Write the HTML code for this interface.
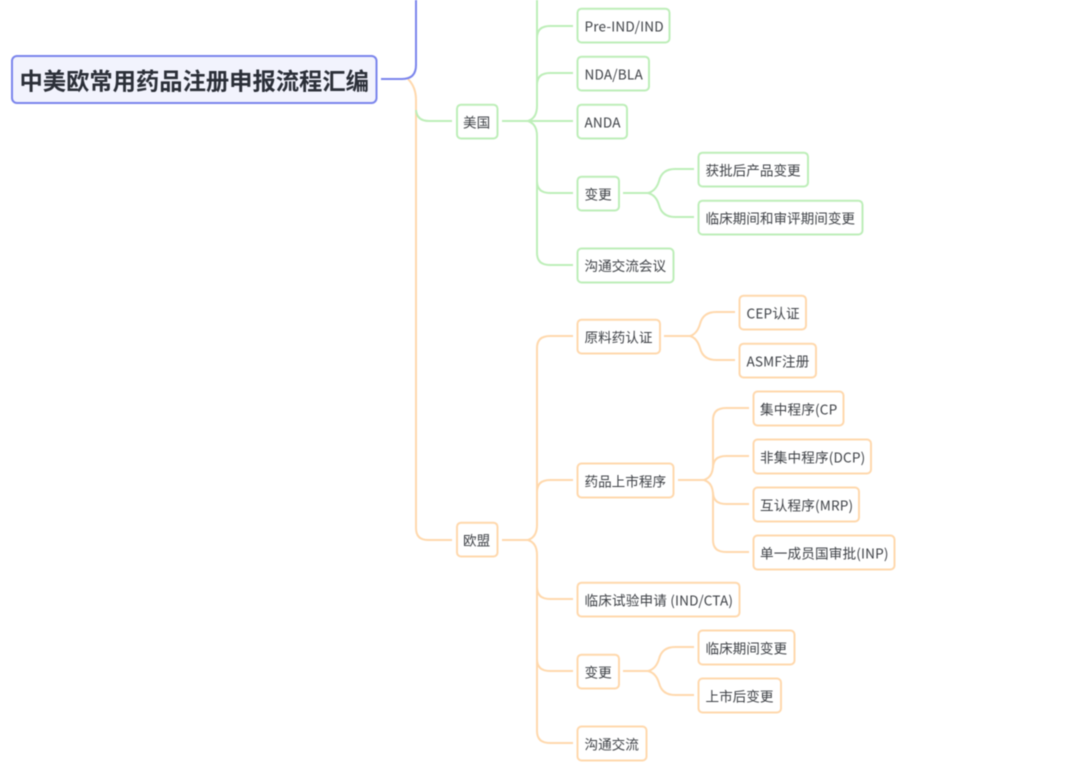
<!DOCTYPE html>
<html><head><meta charset="utf-8"><style>
html,body{margin:0;padding:0;background:#fff;width:1080px;height:780px;overflow:hidden}
svg{display:block;filter:blur(0.45px)}
text{font-family:"Noto Sans CJK SC","Liberation Sans",sans-serif;font-size:13.6px;fill:#3f4247}
text.l{letter-spacing:.16px}
.g rect{fill:#fff;stroke:#bdeeb8;stroke-width:2}
.o rect{fill:#fff;stroke:#ffd8ac;stroke-width:2}
.lg{fill:none;stroke:#bdeeb8;stroke-width:2}
.lo{fill:none;stroke:#ffd8ac;stroke-width:2}
</style></head><body>
<svg width="1080" height="780" viewBox="0 0 1080 780" xmlns="http://www.w3.org/2000/svg">
<path class="lo" d="M408 79C412 83 416 90 416 100V528Q416 540 428 540H452"/>
<path class="lg" d="M416 110Q417 121 429 121H452"/>
<path d="M381 79H402Q416 79 416 65V0" fill="none" stroke="#7a84ec" stroke-width="2"/>

<path class="lg" d="M502 121H528Q537 118 537 106V0"/>
<path class="lg" d="M537 38Q537 26 550 26H573"/>
<path class="lg" d="M537 85Q537 73 550 73H573"/>
<path class="lg" d="M528 121H573"/>
<path class="lg" d="M528 121Q537 124 537 136V181Q537 193 550 193H573"/>
<path class="lg" d="M537 181V253Q537 265 550 265H573"/>
<path class="lg" d="M623 193H648Q656 191 659 181Q662 169 675 169H694"/>
<path class="lg" d="M648 193Q656 195 659 205Q662 217 675 217H694"/>

<path class="lo" d="M502 540H528Q537 537 537 525V348Q537 336 550 336H573"/>
<path class="lo" d="M537 492Q537 480 550 480H573"/>
<path class="lo" d="M528 540Q537 543 537 555V731Q537 743 550 743H573"/>
<path class="lo" d="M537 587Q537 599 550 599H573"/>
<path class="lo" d="M537 659Q537 671 550 671H573"/>
<path class="lo" d="M664 336H690Q697 334 700 324Q703 312 716 312H735"/>
<path class="lo" d="M690 336Q697 338 700 348Q703 360 716 360H735"/>
<path class="lo" d="M678 480H704Q713 477 713 465V420Q713 408 726 408H749"/>
<path class="lo" d="M713 468Q713 456 726 456H749"/>
<path class="lo" d="M704 480Q713 483 713 495V540Q713 552 726 552H749"/>
<path class="lo" d="M713 492Q713 504 726 504H749"/>
<path class="lo" d="M623 671H648Q656 669 659 659Q662 647 675 647H694"/>
<path class="lo" d="M648 671Q656 673 659 683Q662 695 675 695H694"/>

<rect x="12" y="56" width="364.500" height="47" rx="5" fill="#f2f3fd" stroke="#7a84ec" stroke-width="2"/>
<text x="19.500" y="89.500" style="font-size:23.300px;font-weight:700;fill:#2b2f38">中美欧常用药品注册申报流程汇编</text>

<g class="g">
<rect x="577.500" y="8.700" width="92" height="33.800" rx="4"/><text class="l" x="584.500" y="31.300">Pre-IND/IND</text>
<rect x="577.500" y="56.700" width="71.500" height="33.800" rx="4"/><text class="l" x="584.500" y="79.300">NDA/BLA</text>
<rect x="577.500" y="104.700" width="49.500" height="33.800" rx="4"/><text class="l" x="584.500" y="127.300">ANDA</text>
<rect x="457" y="104.700" width="40.500" height="33.800" rx="4"/><text x="463" y="127.300">美国</text>
<rect x="577.500" y="176.700" width="41.500" height="33.800" rx="4"/><text x="584.500" y="199.300">变更</text>
<rect x="698.500" y="152.700" width="109.500" height="33.800" rx="4"/><text x="705.500" y="175.300">获批后产品变更</text>
<rect x="698.500" y="200.700" width="164" height="33.800" rx="4"/><text x="705.500" y="223.300">临床期间和审评期间变更</text>
<rect x="577.500" y="248.500" width="96" height="34" rx="4"/><text x="584.500" y="271">沟通交流会议</text>
</g>

<g class="o">
<rect x="577.500" y="319.700" width="82.500" height="33.800" rx="4"/><text x="584.500" y="342.500">原料药认证</text>
<rect x="739.500" y="295.700" width="66.500" height="33.800" rx="4"/><text class="l" x="746.500" y="318.300">CEP认证</text>
<rect x="739.500" y="343.700" width="76.500" height="33.800" rx="4"/><text class="l" x="746.500" y="366.300">ASMF注册</text>
<rect x="577.500" y="463.500" width="96" height="34" rx="4"/><text x="584.500" y="486.300">药品上市程序</text>
<rect x="753.500" y="391.500" width="90" height="34" rx="4"/><text class="l" x="760" y="414.300">集中程序(CP</text>
<rect x="753.500" y="439.500" width="117.500" height="34" rx="4"/><text class="l" x="760" y="462.300">非集中程序(DCP)</text>
<rect x="753.500" y="487.500" width="105.500" height="34" rx="4"/><text class="l" x="760" y="510.300">互认程序(MRP)</text>
<rect x="753.500" y="535.500" width="141" height="34" rx="4"/><text class="l" x="760" y="558.300">单一成员国审批(INP)</text>
<rect x="457" y="522.700" width="40.500" height="33.800" rx="4"/><text x="463" y="545.300">欧盟</text>
<rect x="577.500" y="582.700" width="162" height="33.800" rx="4"/><text class="l" x="584.500" y="605.300">临床试验申请 (IND/CTA)</text>
<rect x="577.500" y="654.700" width="41.500" height="33.800" rx="4"/><text x="584.500" y="677.300">变更</text>
<rect x="698.500" y="630.500" width="96" height="34" rx="4"/><text x="705.500" y="653.300">临床期间变更</text>
<rect x="698.500" y="678.500" width="82.500" height="34" rx="4"/><text x="705.500" y="701.300">上市后变更</text>
<rect x="577.500" y="726.500" width="69" height="34" rx="4"/><text x="584.500" y="749.300">沟通交流</text>
</g>
</svg>
</body></html>
